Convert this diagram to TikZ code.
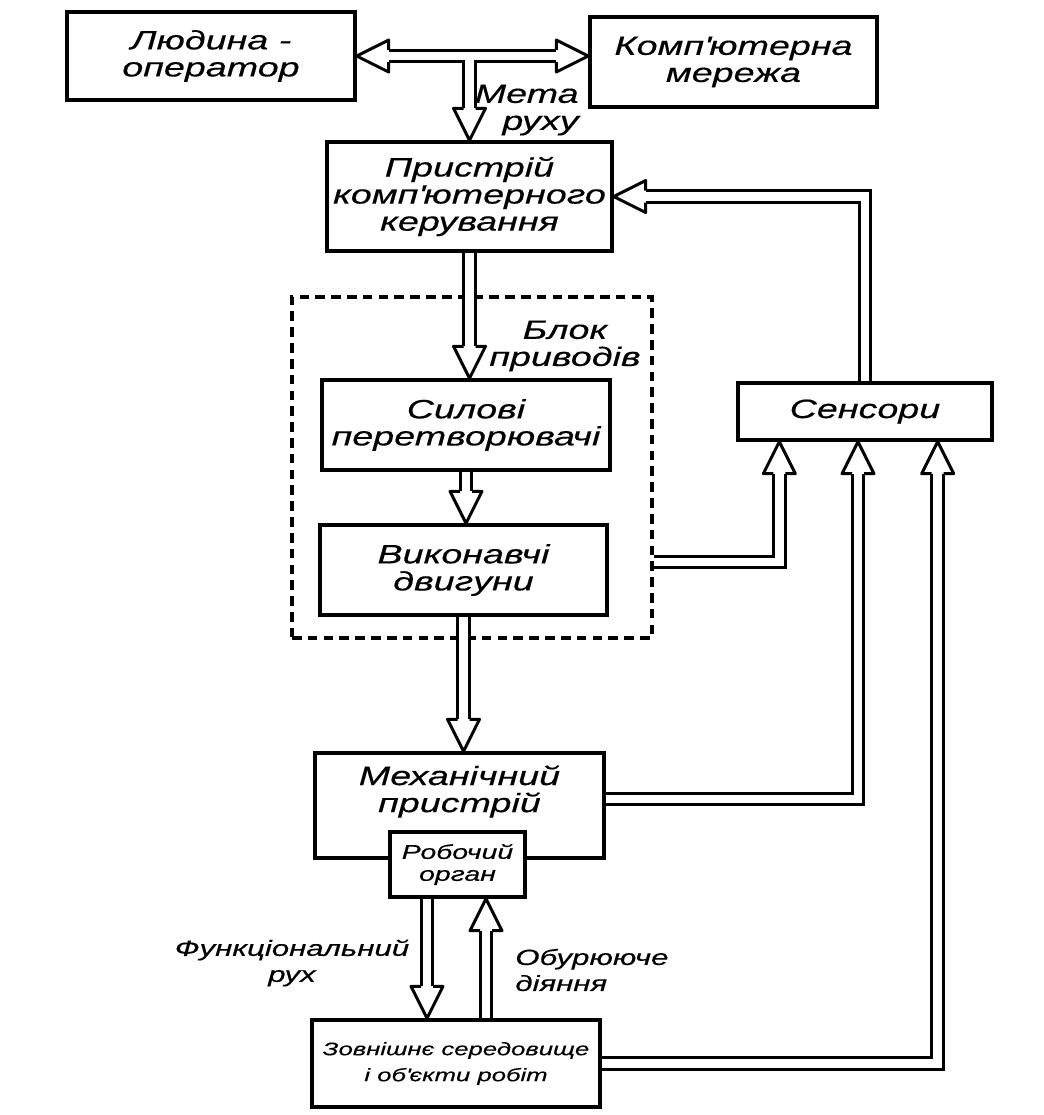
\documentclass[tikz,border=0pt]{standalone}
\usepackage{fontspec}
\setmainfont[FakeStretch=1.42, FakeBold=0.4]{Liberation Sans}

\begin{document}
\begin{tikzpicture}[
    box/.style={
        draw,
        line width=1.9pt,
        fill=white,
        inner sep=0pt,
        align=center,
        font=\itshape\fontsize{15.1}{15.4}\selectfont
    },
    txt/.style={
        align=center,
        inner sep=0pt,
        font=\itshape\fontsize{15.1}{15.4}\selectfont
    },
    lbl/.style={
        inner sep=0pt,
        font=\itshape\fontsize{12.5}{14.8}\selectfont
    },
    dbl/.style={
        double,
        double distance=5.1pt,
        line width=1.7pt
    },
    ahead/.pic={
        \fill[white] (0,0) -- (-0.64,0.32) -- (-0.64,-0.32) -- cycle;
        \draw[line width=1.7pt, line join=round]
            (-0.64,0.12) -- (-0.64,0.32) -- (0,0) -- (-0.64,-0.32) -- (-0.64,-0.12);
    }
]

\fill[white] (0,0) rectangle (20.88,-22.3);

%%%%%%%%%%%%%%%%%%%%%%%%
% Blocks
%%%%%%%%%%%%%%%%%%%%%%%%

% --- Top row ---
\node[box, minimum width=5.76cm, minimum height=1.76cm] (op) at (4.22,-1.12) {Людина -\\оператор};
\node[box, minimum width=5.74cm, minimum height=1.80cm] (net) at (14.67,-1.24) {Комп\textquotesingle ютерна\\мережа};
\node[txt, anchor=east, align=right] (meta) at (11.58,-2.2) {Мета\\руху};

% --- Control ---
\node[box, minimum width=5.70cm, minimum height=2.18cm] (ctrl) at (9.39,-3.93) {Пристрій\\комп\textquotesingle ютерного\\керування};

% --- Drive block ---
\node[draw, line width=2pt, dash pattern=on 5.5pt off 3.5pt,
      minimum width=7.20cm, minimum height=6.82cm] (blk) at (9.44,-9.35) {};
\node[txt] (blktxt) at (11.30,-6.92) {Блок\\приводів};
\node[box, minimum width=5.76cm, minimum height=1.80cm] (sil) at (9.32,-8.50) {Силові\\перетворювачі};
\node[box, minimum width=5.74cm, minimum height=1.80cm] (vyk) at (9.27,-11.40) {Виконавчі\\двигуни};

% --- Sensors ---
\node[box, minimum width=5.08cm, minimum height=1.14cm] (sens) at (17.30,-8.23) {Сенсори};

% --- Mechanism ---
\node[box, minimum width=5.78cm, minimum height=2.10cm] (mech) at (9.19,-16.11) {};
\node[txt] (mechtxt) at (9.19,-15.83) {Механічний\\пристрій};
\node[box, minimum width=2.70cm, minimum height=1.30cm,
      font=\itshape\fontsize{11.4}{12.5}\selectfont] (rob) at (9.15,-17.29) {Робочий\\орган};

% --- Environment ---
\node[box, minimum width=5.76cm, minimum height=1.74cm,
      font=\itshape\fontsize{10.3}{14.8}\selectfont] (env) at (9.12,-21.27) {Зовнішнє середовище\\і об\textquotesingle єкти робіт};
\node[lbl, align=center] (fr) at (5.84,-19.26) {Функціональний\\рух};
\node[lbl, align=left, anchor=west] (ob) at (10.30,-19.40) {Обурююче\\діяння};

%%%%%%%%%%%%%%%%%%%%%%%%
% Arrows
%%%%%%%%%%%%%%%%%%%%%%%%

% --- Operator <-> network, goal ---
\draw[dbl, shorten <=0.64cm, shorten >=0.64cm] (op.east) -- (op.east -| net.west);
\pic[rotate=180] at (op.east) {ahead};
\pic at (op.east -| net.west) {ahead};
\draw[dbl, shorten >=0.64cm] ([yshift=-0.12cm]ctrl.north |- op.east) -- (ctrl.north);
\draw[white, line width=5.1pt] ([yshift=-0.02cm]ctrl.north |- op.east) -- ([yshift=-0.2cm]ctrl.north |- op.east);
\pic[rotate=-90] at (ctrl.north) {ahead};

% --- Main chain ---
\draw[dbl, shorten >=0.64cm] (ctrl.south) -- (ctrl.south |- sil.north);
\pic[rotate=-90] at (ctrl.south |- sil.north) {ahead};
\draw[dbl, shorten >=0.64cm] (sil.south) -- (sil.south |- vyk.north);
\pic[rotate=-90] at (sil.south |- vyk.north) {ahead};
\draw[dbl, shorten >=0.64cm] (vyk.south) -- (vyk.south |- mech.north);
\pic[rotate=-90] at (vyk.south |- mech.north) {ahead};

% --- To sensors ---
\draw[dbl, shorten >=0.64cm] ([yshift=0.16cm]vyk.east -| blk.east) -| ([xshift=0.86cm]sens.south west);
\pic[rotate=90] at ([xshift=0.86cm]sens.south west) {ahead};
\draw[dbl, shorten >=0.64cm] ([yshift=0.13cm]mech.east) -| ([xshift=-0.14cm]sens.south);
\pic[rotate=90] at ([xshift=-0.14cm]sens.south) {ahead};
\draw[dbl, shorten >=0.64cm] (env.east) -| ([xshift=-1.12cm]sens.south east);
\pic[rotate=90] at ([xshift=-1.12cm]sens.south east) {ahead};

% --- Feedback ---
\draw[dbl, shorten >=0.64cm] (sens.north) |- (ctrl.east);
\pic[rotate=180] at (ctrl.east) {ahead};

% --- Working organ <-> environment ---
\draw[dbl, shorten >=0.64cm] ([xshift=-0.61cm]rob.south) -- ([xshift=-0.61cm]rob.south |- env.north);
\pic[rotate=-90] at ([xshift=-0.61cm]rob.south |- env.north) {ahead};
\draw[dbl, shorten >=0.64cm] ([xshift=0.57cm]rob.south |- env.north) -- ([xshift=0.57cm]rob.south);
\pic[rotate=90] at ([xshift=0.57cm]rob.south) {ahead};

\end{tikzpicture}
\end{document}
